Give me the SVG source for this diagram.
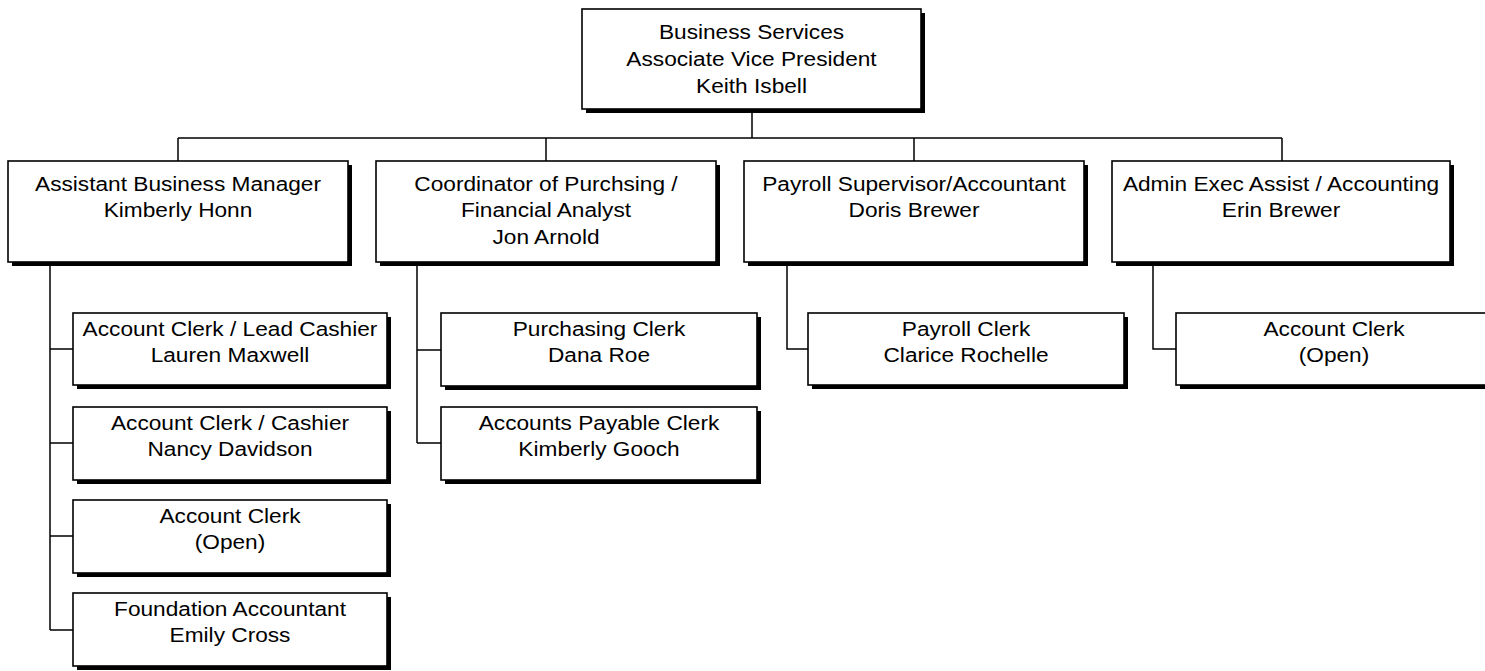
<svg xmlns="http://www.w3.org/2000/svg" width="1485" height="671" viewBox="0 0 1485 671">
<style>
.sh{fill:#000}
.bx{fill:#fff;stroke:#000;stroke-width:1.6}
.t{font-family:"Liberation Sans",Arial,sans-serif;font-size:21px;fill:#000;text-anchor:middle}
.c{fill:none;stroke:#000;stroke-width:1.5}
</style>
<rect width="1485" height="671" fill="#fff"/>
<g id="connectors">
<path class="c" d="M752 112V138M178 138H1282M178 138V161M546 138V161M914 138V161M1282 138V161"/>
<path class="c" d="M50 264V630M50 349H73M50 443H73M50 536H73M50 630H73"/>
<path class="c" d="M417 264V443M417 350H441M417 443H441"/>
<path class="c" d="M787 264V349H808"/>
<path class="c" d="M1153 264V349H1176"/>
</g>
<g id="n-avp">
<rect class="sh" x="586" y="13" width="339" height="100"/>
<rect class="bx" x="582" y="9" width="339" height="100"/>
<text class="t" transform="translate(751.5 0) scale(1.08 1)"><tspan x="0" y="39">Business Services</tspan><tspan x="0" y="66">Associate Vice President</tspan><tspan x="0" y="93">Keith Isbell</tspan></text>
</g>
<g id="n-abm">
<rect class="sh" x="12" y="165" width="340" height="101"/>
<rect class="bx" x="8" y="161" width="340" height="101"/>
<text class="t" transform="translate(178 0) scale(1.08 1)"><tspan x="0" y="191">Assistant Business Manager</tspan><tspan x="0" y="217.5">Kimberly Honn</tspan></text>
</g>
<g id="n-coord">
<rect class="sh" x="380" y="165" width="340" height="101"/>
<rect class="bx" x="376" y="161" width="340" height="101"/>
<text class="t" transform="translate(546 0) scale(1.08 1)"><tspan x="0" y="191">Coordinator of Purchsing /</tspan><tspan x="0" y="217.5">Financial Analyst</tspan><tspan x="0" y="244">Jon Arnold</tspan></text>
</g>
<g id="n-payroll">
<rect class="sh" x="748" y="165" width="340" height="101"/>
<rect class="bx" x="744" y="161" width="340" height="101"/>
<text class="t" transform="translate(914 0) scale(1.08 1)"><tspan x="0" y="191">Payroll Supervisor/Accountant</tspan><tspan x="0" y="217.5">Doris Brewer</tspan></text>
</g>
<g id="n-admin">
<rect class="sh" x="1116" y="165" width="338" height="101"/>
<rect class="bx" x="1112" y="161" width="338" height="101"/>
<text class="t" transform="translate(1281 0) scale(1.08 1)"><tspan x="0" y="191">Admin Exec Assist / Accounting</tspan><tspan x="0" y="217.5">Erin Brewer</tspan></text>
</g>
<g id="n-lead-cashier">
<rect class="sh" x="77" y="317" width="314" height="72"/>
<rect class="bx" x="73" y="313" width="314" height="72"/>
<text class="t" transform="translate(230 0) scale(1.08 1)"><tspan x="0" y="336">Account Clerk / Lead Cashier</tspan><tspan x="0" y="362">Lauren Maxwell</tspan></text>
</g>
<g id="n-cashier">
<rect class="sh" x="77" y="411" width="314" height="73"/>
<rect class="bx" x="73" y="407" width="314" height="73"/>
<text class="t" transform="translate(230 0) scale(1.08 1)"><tspan x="0" y="430.5">Account Clerk / Cashier</tspan><tspan x="0" y="456.5">Nancy Davidson</tspan></text>
</g>
<g id="n-clerk-open-1">
<rect class="sh" x="77" y="504" width="314" height="73"/>
<rect class="bx" x="73" y="500" width="314" height="73"/>
<text class="t" transform="translate(230 0) scale(1.08 1)"><tspan x="0" y="523.5">Account Clerk</tspan><tspan x="0" y="549.5">(Open)</tspan></text>
</g>
<g id="n-foundation">
<rect class="sh" x="77" y="597" width="314" height="73"/>
<rect class="bx" x="73" y="593" width="314" height="73"/>
<text class="t" transform="translate(230 0) scale(1.08 1)"><tspan x="0" y="616.5">Foundation Accountant</tspan><tspan x="0" y="642.5">Emily Cross</tspan></text>
</g>
<g id="n-purch-clerk">
<rect class="sh" x="445" y="317" width="316" height="73"/>
<rect class="bx" x="441" y="313" width="316" height="73"/>
<text class="t" transform="translate(599 0) scale(1.08 1)"><tspan x="0" y="336.5">Purchasing Clerk</tspan><tspan x="0" y="362.5">Dana Roe</tspan></text>
</g>
<g id="n-ap-clerk">
<rect class="sh" x="445" y="411" width="316" height="73"/>
<rect class="bx" x="441" y="407" width="316" height="73"/>
<text class="t" transform="translate(599 0) scale(1.08 1)"><tspan x="0" y="430.5">Accounts Payable Clerk</tspan><tspan x="0" y="456.5">Kimberly Gooch</tspan></text>
</g>
<g id="n-payroll-clerk">
<rect class="sh" x="812" y="317" width="316" height="72"/>
<rect class="bx" x="808" y="313" width="316" height="72"/>
<text class="t" transform="translate(966 0) scale(1.08 1)"><tspan x="0" y="336">Payroll Clerk</tspan><tspan x="0" y="362">Clarice Rochelle</tspan></text>
</g>
<g id="n-clerk-open-2">
<rect class="sh" x="1180" y="317" width="316" height="72"/>
<rect class="bx" x="1176" y="313" width="316" height="72"/>
<text class="t" transform="translate(1334 0) scale(1.08 1)"><tspan x="0" y="336">Account Clerk</tspan><tspan x="0" y="362">(Open)</tspan></text>
</g>
</svg>
